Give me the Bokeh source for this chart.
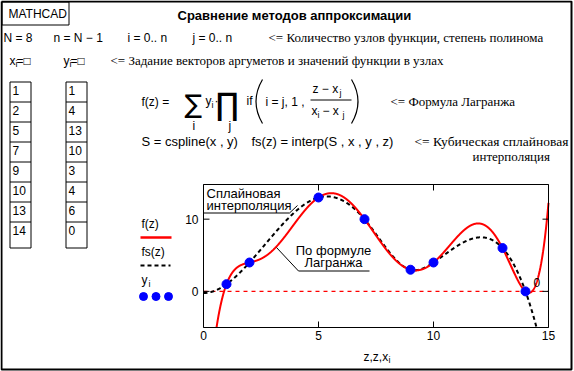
import numpy as np
from bokeh.plotting import figure
from bokeh.models import Range1d, Grid
from bokeh.core.properties import value
from bokeh.embed import file_html
from bokeh.resources import INLINE

# ---------------- data ----------------
x_nodes = [1, 2, 5, 7, 9, 10, 13, 14]
y_nodes = [1, 4, 13, 10, 3, 4, 6, 0]
x_ticks = [0, 5, 10, 15]
y_ticks = [0, 10]
x_limits = (0, 15)
y_limits = (-5, 14.8)


def lagrange(xs, ys, zz):
    xs = np.asarray(xs, float)
    ys = np.asarray(ys, float)
    total = np.zeros_like(zz)
    for i in range(len(xs)):
        term = np.full_like(zz, ys[i])
        for j in range(len(xs)):
            if i != j:
                term = term * (zz - xs[j]) / (xs[i] - xs[j])
        total = total + term
    return total


def cubic_spline(xs, ys, zz):
    xs = np.asarray(xs, float)
    ys = np.asarray(ys, float)
    n = len(xs) - 1
    h = np.diff(xs)
    A = np.zeros((n + 1, n + 1))
    b = np.zeros(n + 1)
    A[0, 0], A[0, 1], A[0, 2] = h[1], -(h[0] + h[1]), h[0]
    for i in range(1, n):
        A[i, i - 1] = h[i - 1]
        A[i, i] = 2 * (h[i - 1] + h[i])
        A[i, i + 1] = h[i]
        b[i] = 6 * ((ys[i + 1] - ys[i]) / h[i] - (ys[i] - ys[i - 1]) / h[i - 1])
    A[n, n - 2], A[n, n - 1], A[n, n] = h[n - 1], -(h[n - 2] + h[n - 1]), h[n - 2]
    M = np.linalg.solve(A, b)
    k = np.clip(np.searchsorted(xs, zz) - 1, 0, n - 1)
    x0, x1, y0, y1, m0, m1, hk = xs[k], xs[k + 1], ys[k], ys[k + 1], M[k], M[k + 1], h[k]
    return (m0 * (x1 - zz) ** 3 / (6 * hk) + m1 * (zz - x0) ** 3 / (6 * hk)
            + (y0 / hk - m0 * hk / 6) * (x1 - zz) + (y1 / hk - m1 * hk / 6) * (zz - x0))


def clip_to_limits(zz, vv, lo, hi):
    """Cut the polyline where it leaves the plot box (NaN breaks)."""
    xo, yo = [], []
    for k in range(len(zz)):
        inside = lo <= vv[k] <= hi
        if k > 0:
            prev_in = lo <= vv[k - 1] <= hi
            if prev_in != inside:
                bound = lo if min(vv[k], vv[k - 1]) < lo else hi
                t = (bound - vv[k - 1]) / (vv[k] - vv[k - 1])
                xo.append(zz[k - 1] + t * (zz[k] - zz[k - 1]))
                yo.append(bound)
                if not inside:
                    xo.append(np.nan)
                    yo.append(np.nan)
        if inside:
            xo.append(zz[k])
            yo.append(vv[k])
    return xo, yo


z = np.linspace(x_limits[0], x_limits[1], 3001)
fz_x, fz_y = clip_to_limits(z, lagrange(x_nodes, y_nodes, z), *y_limits)
fs_x, fs_y = clip_to_limits(z, cubic_spline(x_nodes, y_nodes, z), *y_limits)

SANS = "Liberation Sans"
SERIF = "Liberation Serif"
W, H = 574, 371
BOX_L, BOX_R, BOX_T, BOX_B = 203, 548, 184, 327   # plot box on the page (pixels)

p = figure(width=W, height=H, x_range=Range1d(0, W), y_range=Range1d(H, 0),
           x_axis_location=None, y_axis_location=None, toolbar_location=None,
           output_backend="svg", min_border=0)
p.outline_line_color = None
p.background_fill_color = "white"
p.border_fill_color = "white"
for g in p.select(type=Grid):
    g.visible = False

# chart coordinate system (data -> plot box)
sub = p.subplot(x_source=Range1d(*x_limits), y_source=Range1d(*y_limits),
                x_target=Range1d(BOX_L, BOX_R), y_target=Range1d(BOX_B, BOX_T))
# x in data, y in page pixels (x axis) / x in page pixels, y in data (y axis)
subx = p.subplot(x_source=Range1d(*x_limits), y_source=Range1d(H, 0),
                 x_target=Range1d(BOX_L, BOX_R), y_target=Range1d(H, 0))
suby = p.subplot(x_source=Range1d(0, W), y_source=Range1d(*y_limits),
                 x_target=Range1d(0, W), y_target=Range1d(BOX_B, BOX_T))


def T(text, rx, ry, size=12, font=SANS, style="normal", align="left", color="black"):
    p.text(x=[rx], y=[ry], text=[text], text_font=value(font),
           text_font_size=f"{size}px", text_font_style=style, text_align=align,
           text_baseline="middle", text_color=color)


def seg(x0, y0, x1, y1, color="black", width=1, dash="solid"):
    p.line([x0, x1], [y0, y1], line_color=color, line_width=width, line_dash=dash)


def rect(x0, y0, x1, y1, width=1):
    p.line([x0, x1, x1, x0, x0], [y0, y0, y1, y1, y0], line_color="black", line_width=width)


# ---------- chart ----------
sub.line(list(x_limits), [0, 0], line_color="red", line_width=1.2, line_dash="4 4")
sub.line(fs_x, fs_y, line_color="black", line_width=2, line_dash="4 3")
sub.line(fz_x, fz_y, line_color="red", line_width=2)
sub.scatter(x_nodes, y_nodes, size=9, color="blue")
sub.quad(left=[x_limits[0]], right=[x_limits[1]], bottom=[y_limits[0]], top=[y_limits[1]],
         fill_color=None, line_color="black", line_width=1)

n_x, n_y = len(x_ticks), len(y_ticks)
subx.segment(x0=x_ticks, y0=[BOX_B] * n_x, x1=x_ticks, y1=[BOX_B - 6] * n_x, line_color="black")
subx.segment(x0=x_ticks, y0=[BOX_T] * n_x, x1=x_ticks, y1=[BOX_T + 6] * n_x, line_color="black")
suby.segment(x0=[BOX_L] * n_y, y0=y_ticks, x1=[BOX_L + 6] * n_y, y1=y_ticks, line_color="black")
suby.segment(x0=[BOX_R] * n_y, y0=y_ticks, x1=[BOX_R - 6] * n_y, y1=y_ticks, line_color="black")
subx.text(x=x_ticks, y=[BOX_B + 8] * n_x, text=[str(t) for t in x_ticks], text_font=value(SANS),
          text_font_size="12px", text_align="center", text_baseline="middle", text_color="black")
suby.text(x=[BOX_L - 5] * n_y, y=y_ticks, text=[str(t) for t in y_ticks], text_font=value(SANS),
          text_font_size="12px", text_align="right", text_baseline="middle", text_color="black")
T("0", 533, 282)

T("Сплайновая", 206, 193, size=13)
T("интерполяция", 206, 205, size=13)
seg(203, 212.5, 289, 212.5)
seg(289, 212.5, 297, 205)
T("По формуле", 333, 250, size=13, align="center")
T("Лагранжа", 333, 262, size=13, align="center")
seg(298, 270.5, 369, 270.5)
seg(298, 270.5, 276, 247)

T("z,z,x", 363, 356)
T("i", 388, 359, size=9)

# legend
T("f(z)", 141, 223)
seg(140, 237, 171, 237, color="red", width=2.5)
T("fs(z)", 141, 251)
seg(140, 265, 170, 265, color="black", width=2, dash="4 3")
T("y", 141, 279)
T("i", 148, 283, size=9)
p.scatter([143, 155.5, 168], [296, 296, 296], size=8, color="blue")

# ---------- page ----------
rect(1, 1, 571, 369, width=2)
rect(1.5, 1.5, 68.5, 24.5)
T("MATHCAD", 8, 13)
T("Сравнение методов аппроксимации", 177, 15, size=13, style="bold")

T("N = 8", 3, 37)
T("n = N − 1", 53, 37)
T("i = 0.. n", 127, 37)
T("j = 0.. n", 192, 37)
T("<= Количество узлов функции, степень полинома", 268, 37, size=13, font=SERIF)

T("x", 9, 60)
T("i", 15, 63, size=9)
T("=", 16, 60)
T("□", 23, 60)
T("y", 63, 60)
T("i", 69, 63, size=9)
T("=", 70, 60)
T("□", 77, 60)
T("<= Задание векторов аргуметов и значений функции в узлах", 110, 60, size=13, font=SERIF)

# node vectors
row_top, row_h, last_bottom = 81.5, 20, 247.5
for cx0, cx1, vals in ((9.5, 30.5, x_nodes), (65.5, 86.5, y_nodes)):
    p.line([cx0, cx0], [row_top, last_bottom], line_color="black")
    p.line([cx1, cx1], [row_top, last_bottom], line_color="black")
    for k, v in enumerate(vals):
        seg(cx0, row_top + k * row_h, cx1, row_top + k * row_h)
        T(str(v), cx0 + 2.5, row_top + k * row_h + 8.5)
    seg(cx0, last_bottom, cx1, last_bottom)

# Lagrange formula
T("f(z) =", 141, 101)
T("∑", 184, 103, size=26, font="DejaVu Sans")
T("i", 192, 125)
T("y", 205, 100)
T("i", 211, 104, size=9)
T("·", 214, 100)
T("∏", 215, 103, size=31, font="DejaVu Sans")
T("j", 228, 125)
T("if", 246, 100)
p.quadratic(x0=[262], y0=[79], x1=[262], y1=[123], cx=[249], cy=[101], line_color="black", line_width=1.2)
T("i = j, 1 ,", 265, 101)
T("z − x", 312, 88)
T("j", 339, 92, size=9)
seg(310, 99.5, 351, 99.5)
T("x", 311, 110)
T("i", 317, 114, size=9)
T("− x", 322, 110)
T("j", 342, 114, size=9)
p.quadratic(x0=[351], y0=[79], x1=[351], y1=[123], cx=[364], cy=[101], line_color="black", line_width=1.2)
T("<= Формула Лагранжа", 390, 101, size=13, font=SERIF)

# spline formula
T("S = cspline(x , y)", 141, 141, size=13)
T("fs(z) = interp(S , x , y , z)", 251, 141, size=13)
T("<= Кубическая сплайновая", 414, 141, size=13.5, font=SERIF)
T("интерполяция", 472, 156, size=13, font=SERIF)

open("out.html", "w").write(file_html(p, INLINE))
